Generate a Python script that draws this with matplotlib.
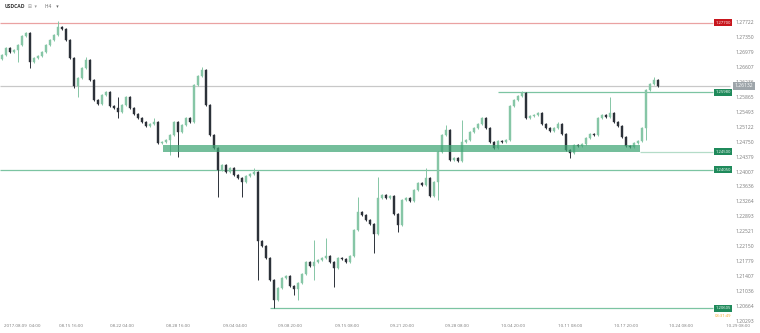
import matplotlib
matplotlib.use('Agg')
import matplotlib.pyplot as plt
from matplotlib.patches import Rectangle
import matplotlib.transforms as mtransforms

plt.rcParams['font.family'] = ['Open Sans', 'DejaVu Sans']

# USDCAD, one candle per two H4 bars
first_open = 1.2680
closes = [
    1.2690, 1.2708, 1.2698, 1.2703, 1.2715, 1.2737, 1.2745, 1.2673, 1.2683, 1.2688, 1.2698, 1.2715, 1.2728, 1.2740, 1.2760,
    1.2755, 1.2728, 1.2683, 1.2613, 1.2633, 1.2658, 1.2678, 1.2628, 1.2578, 1.2568, 1.2591, 1.2598, 1.2563, 1.2559, 1.2549,
    1.2566, 1.2586, 1.2559, 1.2544, 1.2534, 1.2524, 1.2514, 1.2519, 1.2524, 1.2472, 1.2474, 1.2479, 1.2491, 1.2524, 1.2499,
    1.2516, 1.2534, 1.2524, 1.2616, 1.2638, 1.2653, 1.2566, 1.2491, 1.2459, 1.2404, 1.2417, 1.2400, 1.2409, 1.2392, 1.2385,
    1.2375, 1.2390, 1.2395, 1.2400, 1.2228, 1.2216, 1.2186, 1.2131, 1.2081, 1.2111, 1.2136, 1.2141, 1.2116, 1.2109, 1.2124,
    1.2146, 1.2176, 1.2166, 1.2176, 1.2181, 1.2186, 1.2191, 1.2176, 1.2161, 1.2186, 1.2183, 1.2176, 1.2191, 1.2255, 1.2300,
    1.2293, 1.2280, 1.2270, 1.2245, 1.2335, 1.2342, 1.2335, 1.2340, 1.2295, 1.2268, 1.2330, 1.2335, 1.2327, 1.2355, 1.2372,
    1.2367, 1.2385, 1.2340, 1.2375, 1.2449, 1.2491, 1.2504, 1.2429, 1.2434, 1.2427, 1.2474, 1.2479, 1.2499, 1.2509, 1.2519,
    1.2534, 1.2509, 1.2474, 1.2459, 1.2477, 1.2474, 1.2479, 1.2563, 1.2578, 1.2588, 1.2596, 1.2534, 1.2539, 1.2541, 1.2546,
    1.2519, 1.2509, 1.2501, 1.2509, 1.2519, 1.2494, 1.2454, 1.2447, 1.2467, 1.2464, 1.2469, 1.2484, 1.2494, 1.2491, 1.2534,
    1.2541, 1.2536, 1.2546, 1.2524, 1.2514, 1.2486, 1.2464, 1.2462, 1.2472, 1.2477, 1.2509, 1.2603, 1.2618, 1.2628, 1.2613,
]
# wick lengths beyond the body, in pips
up_wick = [
    3, 3, 3, 3, 3, 3, 3, 3, 3, 3, 3, 3, 3, 3, 15,
    3, 3, 3, 3, 3, 3, 8, 3, 3, 3, 3, 3, 3, 3, 27,
    3, 3, 3, 3, 3, 3, 3, 3, 10, 3, 3, 3, 3, 3, 3,
    3, 3, 3, 3, 3, 8, 3, 3, 3, 3, 3, 3, 3, 3, 3,
    3, 3, 3, 10, 3, 3, 3, 3, 3, 3, 3, 3, 3, 3, 3,
    3, 3, 3, 55, 3, 3, 45, 3, 3, 3, 3, 3, 3, 3, 37,
    3, 3, 3, 3, 52, 3, 3, 3, 3, 3, 3, 3, 3, 3, 3,
    3, 25, 3, 3, 3, 3, 12, 3, 3, 3, 55, 3, 3, 3, 3,
    3, 3, 3, 3, 3, 3, 3, 3, 3, 3, 4, 3, 3, 3, 3,
    3, 3, 3, 3, 5, 3, 3, 3, 3, 3, 3, 3, 3, 3, 3,
    3, 3, 40, 3, 3, 3, 3, 3, 3, 3, 3, 3, 3, 8, 3,
]
dn_wick = [
    3, 3, 3, 3, 30, 3, 3, 15, 3, 3, 3, 3, 3, 3, 3,
    3, 3, 3, 5, 27, 3, 3, 3, 3, 3, 3, 3, 3, 3, 15,
    3, 3, 3, 3, 3, 3, 3, 3, 3, 3, 3, 3, 37, 3, 62,
    3, 3, 3, 3, 3, 3, 3, 3, 3, 67, 3, 3, 3, 3, 3,
    37, 3, 3, 3, 97, 3, 3, 3, 20, 3, 3, 3, 3, 15, 27,
    3, 3, 3, 35, 3, 3, 3, 3, 47, 3, 3, 3, 3, 3, 3,
    3, 3, 3, 47, 3, 3, 3, 3, 3, 17, 3, 3, 3, 3, 3,
    3, 3, 3, 3, 45, 3, 3, 3, 3, 3, 3, 3, 3, 3, 3,
    3, 3, 3, 3, 3, 3, 3, 3, 3, 3, 3, 3, 3, 3, 3,
    3, 3, 3, 3, 3, 3, 3, 12, 3, 3, 3, 3, 3, 3, 3,
    3, 3, 3, 3, 3, 3, 3, 3, 3, 3, 3, 30, 3, 3, 3,
]

price_ticks = [1.27722, 1.27350, 1.26979, 1.26607, 1.26236, 1.25865, 1.25493, 1.25122, 1.24750,
               1.24379, 1.24007, 1.23636, 1.23264, 1.22893, 1.22521, 1.22150, 1.21779, 1.21407,
               1.21036, 1.20664, 1.20293]
time_tick_pos = [5, 17.25, 30, 44, 58.25, 72, 86.25, 100, 113.75, 127.75, 142, 156, 169.75, 184]
time_labels = ['2017.08.09  04:00', '08.15 16:00', '08.22 04:00', '08.28 16:00', '09.04 04:00',
               '09.08 20:00', '09.15 08:00', '09.21 20:00', '09.28 08:00', '10.04 20:00',
               '10.11 08:00', '10.17 20:00', '10.24 08:00', '10.29 08:00']

resistance = 1.27700
last_price = 1.26132
range_top = 1.25980
zone_low, zone_high = 1.24500, 1.24670
support = 1.24050
swing_low = 1.20605
zone_start, zone_end = 40.25, 159.5
range_start, low_start = 124, 67

UP = '#86c6a6'
DOWN = '#2c3139'
GREEN = '#7cc4a2'
BOX_GREEN = '#1f8a5b'

fig = plt.figure(figsize=(7.6, 3.33), dpi=100, facecolor='white')
ax = fig.add_axes([0, 0, 1, 1])
ax.set_xlim(-0.5, 189.5)
ax.set_ylim(1.19994, 1.28269)
for s in ax.spines.values():
    s.set_visible(False)

# candles
opens = [first_open] + closes[:-1]
for i, (o, c) in enumerate(zip(opens, closes)):
    col = UP if c >= o else DOWN
    hi = max(o, c) + up_wick[i] * 0.0001
    lo = min(o, c) - dn_wick[i] * 0.0001
    ax.vlines(i, lo, hi, color=col, linewidth=0.7, zorder=3)
    ax.bar(i, c - o, bottom=o, width=0.55, color=col, edgecolor=col, linewidth=0.3, zorder=3)

# levels
right_end = 177.75
ax.hlines(resistance, -0.5, right_end, color='#eaa2a2', linewidth=0.9, zorder=2)
ax.hlines(last_price, -0.5, 182, color='#c8c8c8', linewidth=0.9, zorder=2)
ax.hlines(range_top, range_start, right_end, color=GREEN, linewidth=0.9, zorder=2)
ax.hlines(support, -0.5, right_end, color=GREEN, linewidth=0.9, zorder=2)
ax.hlines(swing_low, low_start, right_end, color=GREEN, linewidth=0.9, zorder=2)
ax.hlines(zone_low, zone_end, right_end, color='#b4dcc8', linewidth=0.9, zorder=2)
ax.add_patch(Rectangle((zone_start, zone_low), zone_end - zone_start, zone_high - zone_low,
                       facecolor='#3fa575', edgecolor='none', alpha=0.72, zorder=4))

# axis labels
ax.yaxis.tick_right()
ax.set_yticks(price_ticks)
ax.set_yticklabels([f'{v:.5f}' for v in price_ticks])
ax.tick_params(axis='y', length=0, pad=-17.5, labelsize=3.6, labelcolor='#7a7a7a')
ax.set_xticks(time_tick_pos)
ax.set_xticklabels(time_labels)
ax.tick_params(axis='x', length=0, pad=-6.5, labelsize=3.2, labelcolor='#7a7a7a')

trans = mtransforms.blended_transform_factory(ax.transAxes, ax.transData)
boxes = [(resistance, '#c8161d'), (range_top, BOX_GREEN), (zone_low, BOX_GREEN),
         (support, BOX_GREEN), (swing_low, BOX_GREEN)]
for level, col in boxes:
    ax.text(723 / 760, level, f'{level:.5f}', transform=trans, fontsize=3, color='white',
            ha='center', va='center', zorder=6,
            bbox=dict(boxstyle='square,pad=0.35', facecolor=col, edgecolor='none'))
ax.text(744 / 760, last_price, f'{last_price:.5f}', transform=trans, fontsize=3.6, color='white',
        ha='center', va='center', zorder=6,
        bbox=dict(boxstyle='square,pad=0.3', facecolor='#9ea5aa', edgecolor='none'))
ax.text(723 / 760, 1.20410, '03:31:49', transform=trans, fontsize=3, color='#f5a623',
        ha='center', va='center', zorder=6)

fig.text(5 / 760, 1 - 7 / 333, 'USDCAD', fontsize=3.6, weight='bold', color='#333333', va='center')
fig.text(28 / 760, 1 - 7 / 333, '⊞  ▾', fontsize=3.4, color='#999999', va='center')
fig.text(45 / 760, 1 - 7 / 333, 'H4    ▾', fontsize=3.4, color='#666666', va='center')

fig.savefig('out.png', dpi=100, facecolor='white')
